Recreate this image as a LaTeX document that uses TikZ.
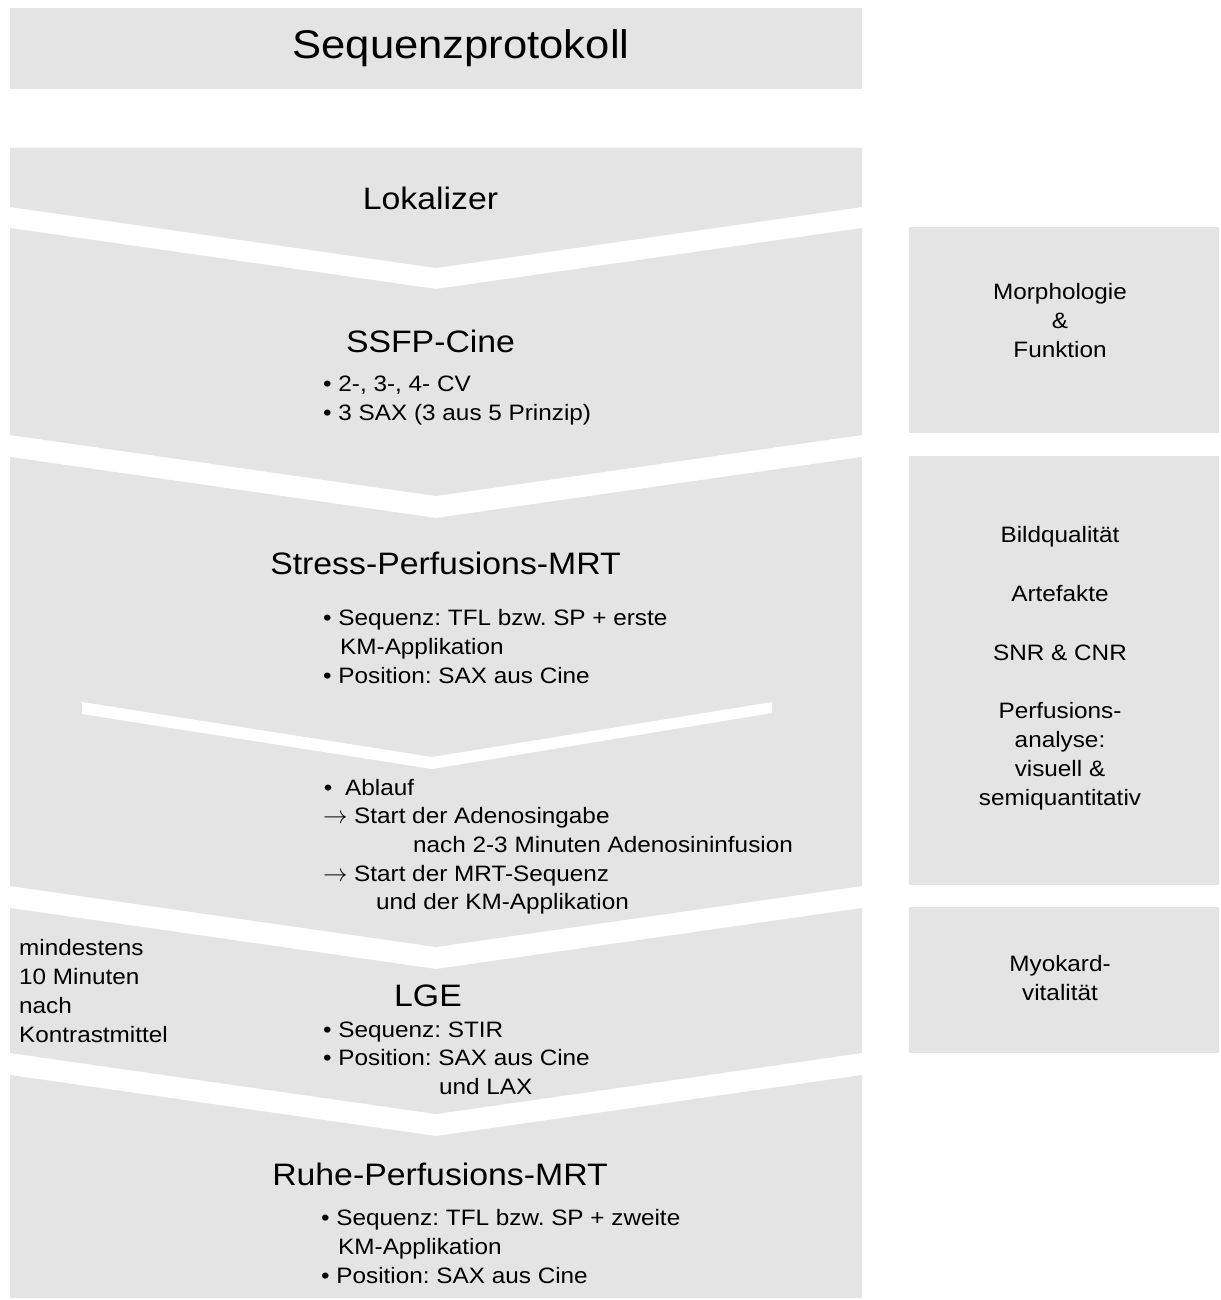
\documentclass[tikz,border=0pt]{standalone}
\usepackage{fontspec}
\setmainfont{Liberation Sans}[FakeStretch=1.09]
\definecolor{boxgray}{RGB}{228,228,228}
\newcommand\mytitlefont{\fontsize{40}{48}\selectfont}
\newcommand\myheadfont{\fontsize{31}{37}\selectfont}
\newcommand\mybodyfont{\fontsize{22.3}{29}\selectfont}
\newcommand\myarrow{\scalebox{1.18}{$\rightarrow$}\hspace{6.5pt}}
\begin{document}
\frenchspacing
\begin{tikzpicture}[x=1pt,y=-1pt,
  shade/.style={fill=boxgray,draw=none},
  titletext/.style={font=\mytitlefont,anchor=base,inner sep=0pt},
  headtext/.style={font=\myheadfont,anchor=base,inner sep=0pt},
  bodytext/.style={font=\mybodyfont,anchor=base west,inner sep=0pt},
  sidetext/.style={font=\mybodyfont,anchor=base,inner sep=0pt}]
\useasboundingbox[fill=white] (0,0) rectangle (1220,1300);

% title bar
\fill[shade] (10,8) rectangle (862,89);
\node[titletext] (title) at (461,59) {Sequenzprotokoll};

% chevron blocks
\fill[shade] (10,148) -- (862,148) -- (862,207) -- (436,268) -- (10,207) -- cycle;
\fill[shade] (10,228) -- (436,289) -- (862,228) -- (862,435) -- (436,496) -- (10,435) -- cycle;
\fill[shade] (10,457) -- (436,518) -- (862,457) -- (862,886) -- (436,947) -- (10,886) -- cycle;
\fill[white] (82,702) -- (432,757) -- (772,702) -- (772,713) -- (432,769) -- (82,714) -- cycle;
\fill[shade] (10,908) -- (436,969) -- (862,908) -- (862,1053) -- (436,1114) -- (10,1053) -- cycle;
\fill[shade] (10,1075) -- (436,1136) -- (862,1075) -- (862,1298) -- (10,1298) -- cycle;

% side boxes
\fill[shade] (909,227) rectangle (1219,433);
\fill[shade] (909,456) rectangle (1219,885);
\fill[shade] (909,907) rectangle (1219,1053);

% Lokalizer
\node[headtext] (lok) at (430.5,209) {Lokalizer};

% SSFP-Cine
\node[headtext] (ssfp) at (430.5,352) {SSFP-Cine};
\node[bodytext] (ssfpa) at (323,391) {• 2-, 3-, 4- CV};
\node[bodytext] (ssfpb) at (323,420) {• 3 SAX (3 aus 5 Prinzip)};

% Stress
\node[headtext] (stress) at (445.5,574) {Stress-Perfusions-MRT};
\node[bodytext] (stra) at (323,625) {• Sequenz: TFL bzw. SP + erste};
\node[bodytext] (strb) at (340,654) {KM-Applikation};
\node[bodytext] (strc) at (323,683) {• Position: SAX aus Cine};
\node[bodytext] (abl) at (323.7,795) {•\hspace{12.8pt}Ablauf};
\node[bodytext] (abla) at (323,823) {\myarrow Start der Adenosingabe};
\node[bodytext] (ablb) at (413,852) {nach 2-3 Minuten Adenosininfusion};
\node[bodytext] (ablc) at (323,881) {\myarrow Start der MRT-Sequenz};
\node[bodytext] (abld) at (376,909) {und der KM-Applikation};

% LGE
\node[headtext] (lge) at (428,1006) {LGE};
\node[bodytext] (lgea) at (323,1037) {• Sequenz: STIR};
\node[bodytext] (lgeb) at (323,1065) {• Position: SAX aus Cine};
\node[bodytext] (lgec) at (439,1094) {und LAX};
\node[bodytext] (mina) at (19,955) {mindestens};
\node[bodytext] (minb) at (19,984) {10 Minuten};
\node[bodytext] (minc) at (19,1013) {nach};
\node[bodytext] (mind) at (19,1042) {Kontrastmittel};

% Ruhe
\node[headtext] (ruhe) at (440,1185) {Ruhe-Perfusions-MRT};
\node[bodytext] (ruhea) at (321,1225) {• Sequenz: TFL bzw. SP + zweite};
\node[bodytext] (ruheb) at (338,1254) {KM-Applikation};
\node[bodytext] (ruhec) at (321,1283) {• Position: SAX aus Cine};

% side texts
\node[sidetext] (morpha) at (1060,299) {Morphologie};
\node[sidetext] (morphb) at (1060,328) {\&};
\node[sidetext] (morphc) at (1060,357) {Funktion};

\node[sidetext] (qa) at (1060,542) {Bildqualität};
\node[sidetext] (qb) at (1060,601) {Artefakte};
\node[sidetext] (qc) at (1060,660) {SNR \& CNR};
\node[sidetext] (qd) at (1060,718) {Perfusions-};
\node[sidetext] (qe) at (1060,747) {analyse:};
\node[sidetext] (qf) at (1060,776) {visuell \&};
\node[sidetext] (qg) at (1060,805) {semiquantitativ};

\node[sidetext] (vita) at (1060,971) {Myokard-};
\node[sidetext] (vitb) at (1060,1000) {vitalität};
\end{tikzpicture}
\end{document}
